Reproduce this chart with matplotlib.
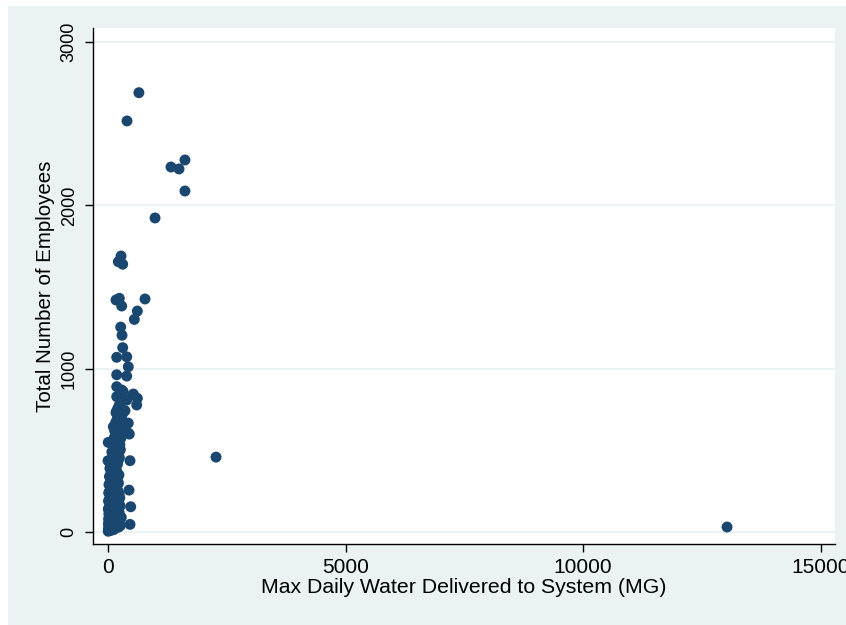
import matplotlib
matplotlib.use("Agg")
import matplotlib.pyplot as plt

# Max Daily Water Delivered to System (MG) vs Total Number of Employees
water = [
    650, 400, 1326, 1495, 1620, 1620, 990, 2274, 13032,
    274, 217, 309, 168, 238, 288, 779, 617, 554, 267, 295,
    309, 183, 394, 427, 183, 394, 183, 288, 183, 533, 617, 604, 394,
    168, 358, 394, 112, 448, 5, 463, 0, 442, 478, 463, 427, 427,
    # dense cluster
    5, 10, 15, 20, 30, 8, 25, 40, 50, 60, 70, 12, 35, 55, 80, 90, 100,
    18, 45, 65, 85, 110, 120, 150, 160, 180, 200, 220, 240, 260, 280,
    6, 22, 38, 58, 75, 95, 115, 135, 155, 175, 195, 215, 235, 255,
    10, 28, 48, 68, 88, 108, 128, 148, 168, 188, 208, 228, 248,
    14, 34, 54, 74, 94, 114, 134, 154, 174, 194, 214, 234,
    20, 40, 60, 80, 100, 120, 140, 160, 180, 200, 220,
    30, 50, 70, 90, 110, 130, 150, 170, 190, 210, 230,
    40, 60, 80, 100, 120, 140, 160, 180, 200,
    60, 90, 120, 150, 180, 210, 240,
    80, 110, 140, 170, 200, 230, 260,
    100, 130, 160, 190, 220, 250,
    120, 150, 180, 210, 240, 270,
    140, 170, 200, 230, 260,
    160, 190, 220, 250, 280, 300,
    180, 210, 240, 270, 320,
]
employees = [
    2690, 2517, 2235, 2223, 2278, 2088, 1923, 459, 31,
    1690, 1655, 1640, 1421, 1431, 1384, 1427, 1353, 1302, 1255, 1205,
    1129, 1070, 1073, 1012, 963, 955, 890, 870, 829, 845, 819, 778, 808,
    731, 743, 666, 645, 600, 549, 437, 437, 257, 155, 47, 606, 667,
    # dense cluster
    5, 20, 10, 35, 15, 50, 60, 40, 25, 10, 30, 80, 90, 70, 55, 20, 40,
    110, 120, 105, 95, 80, 15, 60, 25, 70, 50, 30, 75, 40, 90,
    140, 150, 130, 160, 145, 135, 120, 110, 150, 130, 100, 140, 120, 160,
    190, 200, 180, 210, 185, 175, 195, 205, 170, 220, 190, 180, 210,
    240, 250, 230, 260, 245, 235, 255, 225, 265, 240, 250, 230,
    290, 300, 280, 310, 295, 285, 305, 275, 315, 290, 300,
    340, 350, 330, 360, 345, 335, 355, 325, 365, 340, 350,
    390, 400, 380, 410, 395, 385, 405, 375, 415,
    440, 450, 430, 460, 445, 435, 455,
    490, 500, 480, 510, 495, 485, 505,
    530, 545, 525, 555, 540, 535,
    570, 590, 560, 600, 580, 575,
    620, 640, 610, 650, 630,
    670, 690, 660, 700, 680, 720,
    740, 760, 780, 800, 860,
]

xticks = [0, 5000, 10000, 15000]
yticks = [0, 1000, 2000, 3000]

bg = "#EAF2F3"
navy = "#1A476F"

fig = plt.figure(figsize=(8.46, 6.25), dpi=100, facecolor="white")
# outer graph region
fig.patches.append(plt.Rectangle((8/846, 0), 838/846, 1 - 6/625,
                                 transform=fig.transFigure, facecolor=bg,
                                 edgecolor="none", zorder=-10))

ax = fig.add_axes([93/846, 1 - 544/625, (835 - 93)/846, (544 - 28)/625])
ax.set_zorder(5)
ax.set_facecolor("white")
ax.scatter(water, employees, s=62, color=navy, edgecolors="none", zorder=3,
           clip_on=False)

ax.set_xlim(-316, 15305)
ax.set_ylim(-73, 3086)
ax.set_xticks(xticks)
ax.set_yticks(yticks)
ax.grid(axis="y", color=bg, linewidth=1.5)
ax.set_axisbelow(True)

for s in ["top", "right"]:
    ax.spines[s].set_visible(False)
for s in ["left", "bottom"]:
    ax.spines[s].set_color("black")
    ax.spines[s].set_linewidth(1.0)

font = ["Liberation Sans", "DejaVu Sans"]
ax.tick_params(axis="both", direction="out", length=6, width=1, colors="black")
ax.tick_params(axis="x", labelsize=15, pad=4)
ax.tick_params(axis="y", labelsize=13, pad=5)
for lab in ax.get_xticklabels():
    lab.set_family(font)
for lab in ax.get_yticklabels():
    lab.set_family(font)
    lab.set_rotation(90)
    lab.set_va("center")

ax.set_xlabel("Max Daily Water Delivered to System (MG)", fontsize=15.3,
              family=font, labelpad=1)
ax.set_ylabel("Total Number of Employees", fontsize=14.8, family=font,
              labelpad=4)

fig.savefig("out.png", dpi=100, facecolor="white")
